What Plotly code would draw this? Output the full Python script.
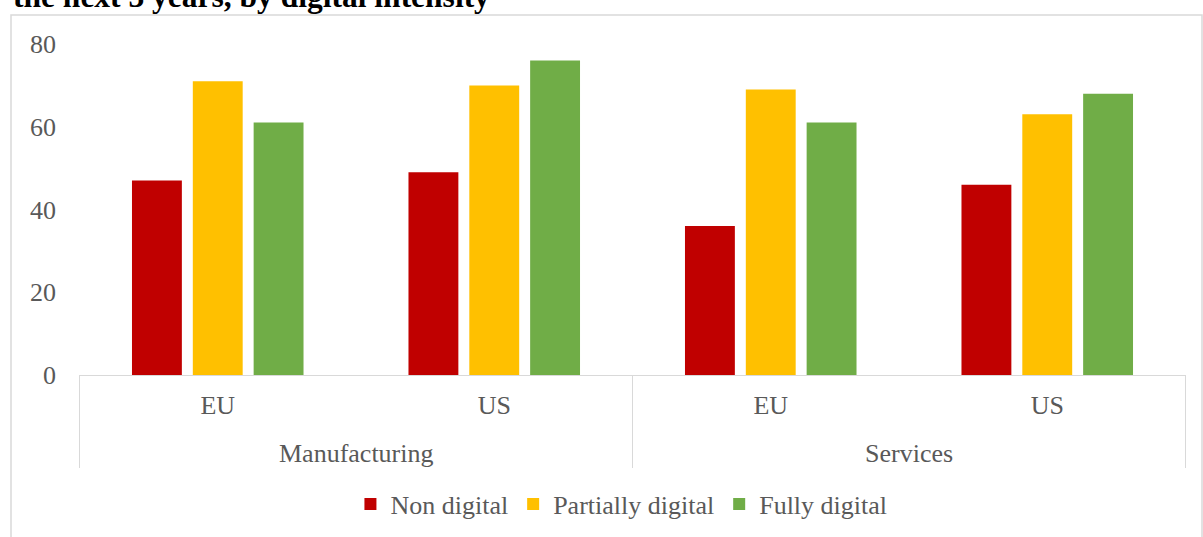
import plotly.graph_objects as go

sectors = ['Manufacturing', 'Services']
regions = ['EU', 'US']
categories = ['Manufacturing EU', 'Manufacturing US', 'Services EU', 'Services US']
tick_labels = ['EU', 'US', 'EU', 'US']

non_digital = [47, 49, 36, 46]
partially_digital = [71, 70, 69, 63]
fully_digital = [61, 76, 61, 68]

series = [
    ('Non digital', non_digital, '#C00000'),
    ('Partially digital', partially_digital, '#FFC000'),
    ('Fully digital', fully_digital, '#70AD47'),
]

W, H = 1203, 537
left, right, top, bottom = 79, 17, 44, 162
plot_w = W - left - right
plot_h = H - top - bottom


def py(px):
    # pixel row -> paper y
    return (H - bottom - px) / plot_h


def px_x(px):
    return (px - left) / plot_w


font = dict(family='Liberation Serif, Times New Roman, serif', size=26, color='#595959')

fig = go.Figure()
for name, vals, color in series:
    fig.add_trace(go.Bar(x=categories, y=vals, name=name, marker_color=color,
                         marker_line_width=0))

fig.update_layout(
    width=W, height=H,
    margin=dict(l=left, r=right, t=top, b=bottom, autoexpand=False),
    plot_bgcolor='white', paper_bgcolor='white',
    font=font,
    barmode='group', bargap=0.34, bargroupgap=0.18,
    showlegend=True,
    legend=dict(orientation='h', x=0.49, xanchor='center', y=py(504), yanchor='middle',
                font=font, itemwidth=30, tracegroupgap=0),
)

fig.update_yaxes(range=[0, 80], tickvals=[0, 20, 40, 60, 80], showgrid=False,
                 zeroline=False, showline=False, ticklabelstandoff=22)
fig.update_xaxes(tickvals=categories, ticktext=tick_labels, showline=True,
                 linecolor='#D9D9D9', linewidth=1, ticks='', ticklabelstandoff=7)

# category dividers
for xv in [-0.5, 1.5, 3.5]:
    fig.add_shape(type='line', xref='x', yref='paper', x0=xv, x1=xv, y0=0, y1=py(468),
                  line=dict(color='#D9D9D9', width=1))

# outer group labels
for i, s in enumerate(sectors):
    fig.add_annotation(x=2 * i + 0.5, xref='x', y=py(453), yref='paper', text=s,
                       showarrow=False, yanchor='middle', font=font)

# chart border
fig.add_shape(type='rect', xref='paper', yref='paper', x0=px_x(11), x1=px_x(1202),
              y0=py(560), y1=py(15), line=dict(color='#D9D9D9', width=1.5))

# title, cut off at the top as in the source
fig.add_annotation(x=px_x(11), xref='paper', xanchor='left', y=py(16), yref='paper',
                   yanchor='bottom', showarrow=False,
                   text='<b>the next 3 years, by digital intensity</b>',
                   font=dict(family='Liberation Serif, Times New Roman, serif', size=31.5,
                             color='black'))

fig.write_html('out.html', config={'displayModeBar': False},
               post_script="document.body.style.margin='0';")
